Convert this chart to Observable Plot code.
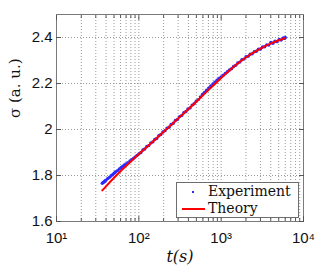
<!DOCTYPE html>
<html>
<head>
<meta charset="utf-8">
<script src="https://cdn.jsdelivr.net/npm/d3@7"></script>
<script src="https://cdn.jsdelivr.net/npm/@observablehq/plot@0.6"></script>
<style>
  html, body { margin: 0; padding: 0; background: #fff; }
  #wrap { position: relative; width: 332px; height: 274px; }
  #legend {
    position: absolute; left: 176px; top: 182px; width: 123px; height: 36px;
    background: #fff; border: 1px solid #6e6e6e; box-sizing: border-box;
    font-family: "DejaVu Serif", serif; font-size: 14px; color: #111;
  }
  .row { position: absolute; left: 0; height: 17px; line-height: 17px; }
  .txt { position: absolute; left: 31px; top: 0; height: 17px; line-height: 17px; white-space: nowrap; }
</style>
</head>
<body>
<div id="wrap"></div>
<script>
// Theory curve
const theoryT = [36, 40, 50, 63, 79, 100, 126, 158, 200, 251, 316, 398, 501, 631, 794, 1000, 1259, 1585, 1995, 2512, 3162, 3981, 5012, 5900];
const theoryS = [1.735, 1.753, 1.790, 1.826, 1.859, 1.893, 1.925, 1.957, 1.990, 2.022, 2.055, 2.088, 2.122, 2.156, 2.190, 2.224, 2.257, 2.287, 2.313, 2.336, 2.356, 2.373, 2.388, 2.397];

// Experiment points
const expT = [36, 37, 38, 39, 40, 42, 44, 46, 48, 50, 52, 55, 58, 61, 64, 67, 70, 74, 78, 82, 86, 90, 95, 100,
  106, 112, 118, 125, 132, 140, 148, 156, 165, 175, 185, 196, 208, 220, 233, 247, 262, 278, 295, 313, 332, 352, 373, 395,
  419, 444, 470, 498, 528, 560, 593, 628, 666, 706, 748, 793, 840, 890, 943, 1000, 1060, 1123, 1190, 1261, 1336, 1416,
  1500, 1590, 1685, 1785, 1891, 2004, 2123, 2250, 2384, 2526, 2676, 2836, 3005, 3184, 3374, 3575, 3788, 4014, 4253,
  4506, 4775, 5060, 5360, 5680, 5900, 6000];
const expS = [1.766, 1.770, 1.773, 1.777, 1.780, 1.787, 1.792, 1.799, 1.804, 1.810, 1.815, 1.821, 1.828, 1.835, 1.840, 1.846, 1.850, 1.856, 1.863, 1.869, 1.874, 1.880, 1.887, 1.894,
  1.900, 1.911, 1.915, 1.926, 1.930, 1.942, 1.946, 1.957, 1.961, 1.973, 1.978, 1.989, 1.995, 2.006, 2.010, 2.022, 2.027, 2.039, 2.044, 2.056, 2.061, 2.073, 2.078, 2.089,
  2.094, 2.106, 2.112, 2.123, 2.130, 2.142, 2.152, 2.161, 2.171, 2.180, 2.189, 2.198, 2.206, 2.214, 2.222, 2.229, 2.236, 2.244, 2.251, 2.259, 2.264, 2.274,
  2.279, 2.289, 2.293, 2.303, 2.306, 2.316, 2.318, 2.327, 2.329, 2.338, 2.340, 2.349, 2.350, 2.359, 2.360, 2.368, 2.367, 2.378, 2.375,
  2.384, 2.382, 2.391, 2.389, 2.398, 2.396, 2.400];

// Axis ticks
const xMajor = [10, 100, 1000, 10000];
const xMajorLabels = ["10\u00B9", "10\u00B2", "10\u00B3", "10\u2074"];
const xMinor = [];
for (const d of [10, 100, 1000]) for (let k = 2; k <= 9; k++) xMinor.push(d * k);
const yTicks = [1.6, 1.8, 2.0, 2.2, 2.4];
const yLabels = ["1.6", "1.8", "2", "2.2", "2.4"];

const theory = theoryT.map((t, i) => ({t, s: theoryS[i]}));
const exp = expT.map((t, i) => ({t, s: expS[i]}));

const sans = "'Liberation Sans', Arial, Helvetica, sans-serif";
const serif = "'DejaVu Serif', serif";

const tickOpts = {label: null, tickFormat: () => "", stroke: "#555"};

const chart = Plot.plot({
  width: 332, height: 274,
  marginLeft: 56, marginRight: 29, marginTop: 14, marginBottom: 53,
  style: {background: "#fff", fontFamily: sans},
  x: {type: "log", domain: [10, 10000], axis: null},
  y: {domain: [1.6, 2.5], axis: null},
  marks: [
    Plot.ruleX(xMajor.concat(xMinor), {stroke: "#9a9a9a", strokeDasharray: "1,2", strokeWidth: 1}),
    Plot.ruleY(yTicks, {stroke: "#9a9a9a", strokeDasharray: "1,2", strokeWidth: 1}),
    Plot.dot(exp, {x: "t", y: "s", r: 1.7, fill: "#2a2aff", stroke: null}),
    Plot.line(theory, {x: "t", y: "s", stroke: "#ff0000", strokeWidth: 2, curve: "monotone-x"}),
    Plot.frame({stroke: "#7a7a7a", strokeWidth: 1}),
    // inward ticks
    Plot.axisX(xMajor, {anchor: "bottom", tickSize: -5, ...tickOpts}),
    Plot.axisX(xMajor, {anchor: "top", tickSize: -5, ...tickOpts}),
    Plot.axisX(xMinor, {anchor: "bottom", tickSize: -3, ...tickOpts}),
    Plot.axisX(xMinor, {anchor: "top", tickSize: -3, ...tickOpts}),
    Plot.axisY(yTicks, {anchor: "left", tickSize: -5, ...tickOpts}),
    Plot.axisY(yTicks, {anchor: "right", tickSize: -5, ...tickOpts}),
    // labels
    Plot.axisX(xMajor, {anchor: "bottom", tickSize: 0, tickPadding: 11, label: null,
      tickFormat: (d) => xMajorLabels[xMajor.indexOf(d)], fontSize: 15, fill: "#111"}),
    Plot.axisY(yTicks, {anchor: "left", tickSize: 0, tickPadding: 4, label: null,
      tickFormat: (d) => yLabels[yTicks.indexOf(d)], fontSize: 15, fill: "#111"}),
    Plot.text(["t(s)"], {frameAnchor: "bottom", dy: 40, fontSize: 16, fontStyle: "italic", fontFamily: serif, fill: "#111"}),
    Plot.text(["\u03C3 (a. u.)"], {frameAnchor: "left", dx: -41, rotate: -90, fontSize: 15, fontFamily: serif, fill: "#111"})
  ]
});
const wrap = document.getElementById("wrap");
wrap.appendChild(chart);

const legend = document.createElement("div");
legend.id = "legend";
legend.innerHTML = `
  <div class="row" style="top:0px;width:100%">
    <svg width="30" height="17" style="position:absolute;left:0;top:0"><rect x="15" y="8" width="2" height="2" fill="#2a2aff"/></svg>
    <span class="txt">Experiment</span>
  </div>
  <div class="row" style="top:17px;width:100%">
    <svg width="30" height="17" style="position:absolute;left:0;top:0"><line x1="5" x2="28" y1="9" y2="9" stroke="#ff0000" stroke-width="2"/></svg>
    <span class="txt">Theory</span>
  </div>`;
wrap.appendChild(legend);
</script>
</body>
</html>
